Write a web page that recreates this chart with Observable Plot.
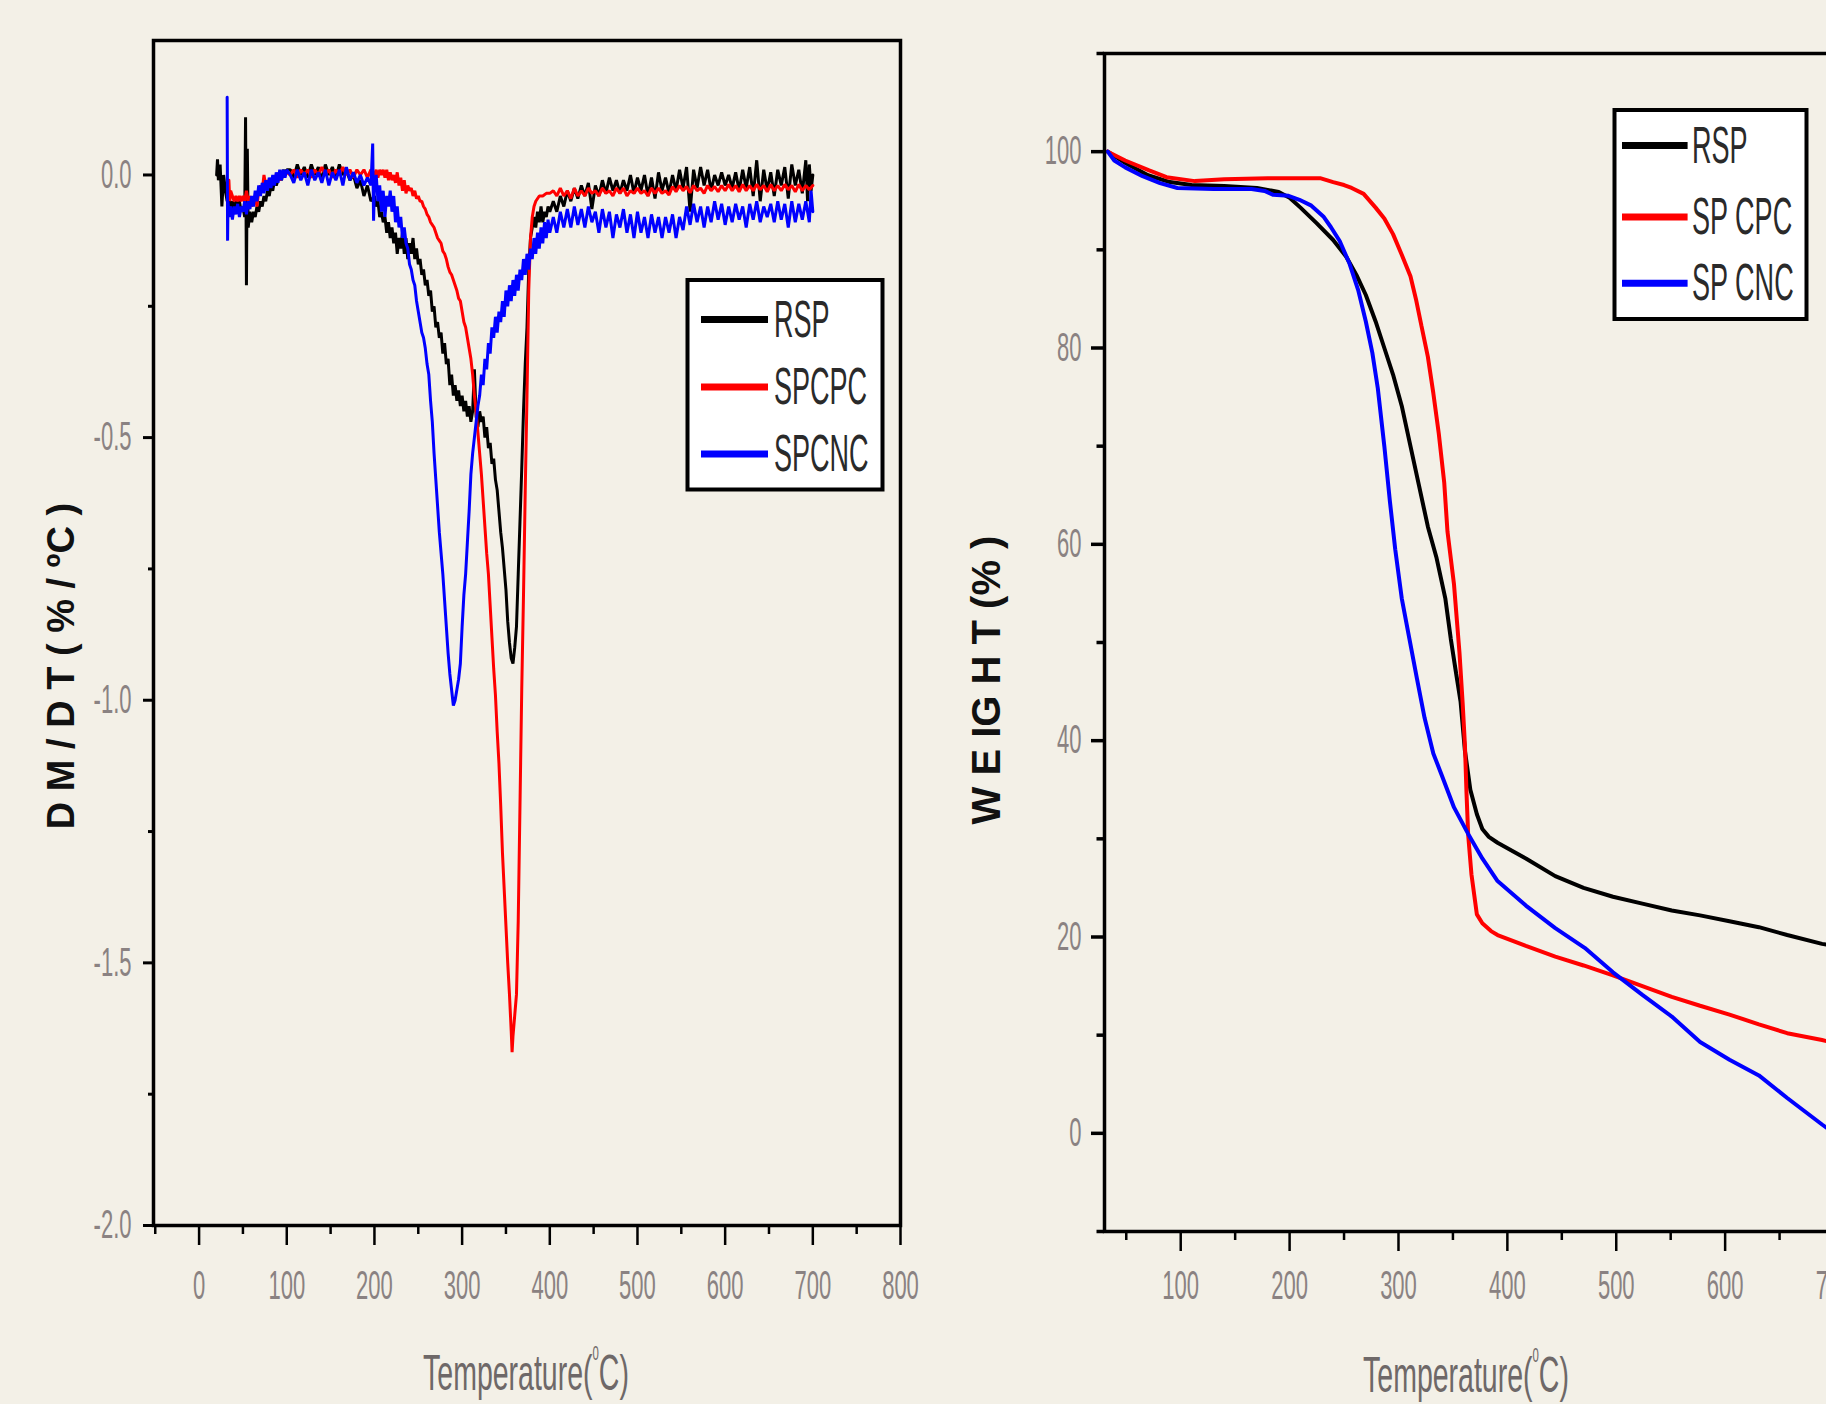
<!DOCTYPE html>
<html><head><meta charset="utf-8">
<script src="https://cdn.jsdelivr.net/npm/d3@7"></script>
<script src="https://cdn.jsdelivr.net/npm/@observablehq/plot@0.6"></script>
<style>
html,body{margin:0;padding:0;background:#f3f0e7;overflow:hidden;}
#wrap{position:relative;width:1826px;height:1404px;overflow:hidden;background:#f3f0e7;}
#left{position:absolute;left:0;top:0;width:960px;height:1404px;}
#right{position:absolute;left:920px;top:0;width:1050px;height:1404px;}
#wrap svg{max-width:none !important;}
</style></head>
<body><div id="wrap"><div id="left"></div><div id="right"></div></div>
<script>
// ---------- Left panel (DTG) data: [temperature °C, dM/dT %/°C] ----------
const dtgRSP = [
[20,0.0],[21,0.03],[22,-0.01],[24,0.02],[26,-0.06],[28,0.0],[30,-0.03],[32,-0.05],[34,-0.04],[36,-0.06],[38,-0.05],[40,-0.07],[42,-0.05],[44,-0.06],[46,-0.05],[48,-0.07],[50,-0.06],[52,-0.08],[53,0.11],[54,-0.21],[55,0.05],[56,-0.1],[58,-0.07],[60,-0.09],[62,-0.07],[64,-0.08],[66,-0.06],[68,-0.07],[70,-0.05],[72,-0.06],[74,-0.04],[76,-0.05],[78,-0.03],[80,-0.04],[82,-0.02],[84,-0.03],[86,-0.01],[88,-0.02],[90,-0.01],[92,0.0],[94,-0.01],[96,0.01],[98,0.0],[100,0.01],
[104,0.01],[108,-0.005],[112,0.02],[116,0.0],[120,0.015],[124,-0.005],[128,0.02],[132,0.0],[136,0.015],[140,-0.01],[144,0.02],[148,0.0],[152,0.015],[156,-0.005],[160,0.02],[164,0.0],[168,0.01],[172,-0.01],[176,0.0],[180,-0.025],[184,-0.01],[188,-0.04],[192,-0.02],[196,-0.05],[200,-0.04],
[202,-0.06],[204,-0.05],[206,-0.08],[208,-0.07],[210,-0.09],[212,-0.08],[214,-0.11],[216,-0.09],[218,-0.12],[220,-0.1],[222,-0.13],[224,-0.11],[226,-0.15],[228,-0.12],[230,-0.14],[232,-0.11],[234,-0.15],[236,-0.12],[238,-0.16],[240,-0.13],[242,-0.15],[244,-0.12],[246,-0.16],[248,-0.14],[250,-0.17],[252,-0.16],[254,-0.19],[256,-0.18],[258,-0.21],[260,-0.2],[262,-0.23],[264,-0.22],[266,-0.26],[268,-0.25],[270,-0.29],[272,-0.28],[274,-0.31],[276,-0.3],[278,-0.34],[280,-0.32],[282,-0.36],[284,-0.35],[286,-0.4],[288,-0.38],[290,-0.42],[292,-0.4],[294,-0.43],[296,-0.41],[298,-0.44],[300,-0.42],[302,-0.45],[304,-0.43],[306,-0.46],[308,-0.44],[310,-0.47],[312,-0.45],[314,-0.37],[316,-0.46],[318,-0.48],[320,-0.45],[322,-0.47],[324,-0.46],[326,-0.5],[328,-0.48],[330,-0.52],[332,-0.51],[334,-0.55],[336,-0.54],[338,-0.58],[340,-0.6],[342,-0.64],[344,-0.68],[346,-0.71],[348,-0.75],[350,-0.79],[352,-0.85],[354,-0.89],[356,-0.92],[358,-0.93],[360,-0.9],[362,-0.86],[364,-0.76],[366,-0.66],[368,-0.56],[370,-0.45],[372,-0.36],[374,-0.29],[376,-0.18],[378,-0.12],[380,-0.1],[382,-0.08],[384,-0.1],[386,-0.07],[388,-0.09],[390,-0.06],[392,-0.09],[394,-0.07],[396,-0.08],[398,-0.06],[400,-0.07],
[404,-0.05],[408,-0.07],[412,-0.04],[416,-0.06],[420,-0.03],[424,-0.05],[428,-0.025],[432,-0.045],[436,-0.02],[440,-0.04],[444,-0.015],[448,-0.065],[452,-0.02],[456,-0.04],[460,-0.01],[464,-0.035],[468,-0.005],[472,-0.03],[476,-0.01],[480,-0.035],[484,-0.01],[488,-0.03],[492,0.0],[496,-0.035],[500,-0.005],[504,-0.03],[508,0.0],[512,-0.04],[516,-0.005],[520,-0.045],[524,0.005],[528,-0.03],[532,-0.005],[536,-0.035],[540,0.0],[544,-0.03],[548,0.01],[552,-0.025],[556,0.015],[560,-0.07],[564,0.01],[568,-0.025],[572,0.015],[576,-0.02],[580,0.01],[584,-0.03],[588,0.0],[592,-0.02],[596,0.005],[600,-0.02],[604,0.0],[608,-0.025],[612,0.005],[616,-0.03],[620,0.01],[624,-0.025],[628,0.015],[632,-0.04],[636,0.028],[640,-0.05],[644,0.01],[648,-0.03],[652,0.005],[656,-0.04],[660,0.01],[664,-0.02],[668,0.015],[672,-0.045],[676,0.02],[680,-0.02],[684,0.01],[688,-0.035],[692,0.028],[694,-0.05],[696,0.02],[698,-0.03],[700,0.0]
];
const dtgSPCPC = [
[34,-0.01],[35,-0.05],[36,-0.03],[38,-0.04],[40,-0.05],[42,-0.04],[44,-0.05],[46,-0.04],[48,-0.05],[50,-0.04],[52,-0.05],[54,-0.03],[56,-0.05],[58,-0.04],[60,-0.06],[62,-0.05],[64,-0.04],[66,-0.06],[68,-0.03],[70,-0.02],[72,-0.03],[74,0.0],[76,-0.02],[78,-0.01],[80,-0.02],[84,-0.01],[88,0.0],[92,-0.01],[96,0.0],[100,0.005],
[104,0.0],[108,0.01],[112,-0.005],[116,0.01],[120,0.0],[124,0.01],[128,-0.005],[132,0.01],[136,0.0],[140,0.015],[144,0.0],[148,0.01],[152,-0.005],[156,0.01],[160,0.0],[164,0.015],[168,0.0],[172,0.01],[176,-0.005],[180,0.01],[184,0.0],[188,0.01],[192,-0.005],[196,0.01],[200,0.0],
[202,0.01],[204,-0.005],[206,0.01],[208,0.0],[210,0.01],[212,-0.005],[214,0.01],[216,-0.01],[218,0.005],[220,-0.01],[222,0.0],[224,-0.015],[226,0.005],[228,-0.02],[230,-0.005],[232,-0.03],[234,-0.01],[236,-0.035],[238,-0.02],[240,-0.03],[242,-0.025],[244,-0.04],[246,-0.03],[248,-0.045],[250,-0.04],[252,-0.05],[254,-0.05],[256,-0.06],[258,-0.065],[260,-0.075],[262,-0.08],[264,-0.09],[266,-0.095],[268,-0.1],[270,-0.11],[272,-0.12],[274,-0.125],[276,-0.13],[278,-0.145],[280,-0.15],[282,-0.16],[284,-0.175],[286,-0.185],[288,-0.19],[290,-0.2],[292,-0.21],[294,-0.22],[296,-0.235],[298,-0.24],[300,-0.26],[302,-0.28],[304,-0.29],[306,-0.31],[308,-0.33],[310,-0.35],[312,-0.38],[314,-0.42],[316,-0.45],[318,-0.49],[320,-0.53],[322,-0.57],[324,-0.62],[326,-0.67],[328,-0.72],[330,-0.76],[332,-0.82],[334,-0.88],[336,-0.94],[338,-0.99],[340,-1.06],[342,-1.12],[344,-1.2],[346,-1.29],[348,-1.36],[350,-1.43],[352,-1.5],[354,-1.56],[356,-1.63],[357,-1.67],[358,-1.64],[360,-1.6],[362,-1.56],[364,-1.42],[366,-1.2],[368,-0.98],[370,-0.8],[372,-0.6],[374,-0.42],[376,-0.22],[378,-0.12],[380,-0.08],[382,-0.06],[384,-0.05],[388,-0.04],[392,-0.04],[396,-0.035],[400,-0.035],
[404,-0.03],[408,-0.04],[412,-0.025],[416,-0.04],[420,-0.03],[424,-0.045],[428,-0.025],[432,-0.04],[436,-0.03],[440,-0.04],[444,-0.025],[448,-0.035],[452,-0.03],[456,-0.04],[460,-0.025],[464,-0.035],[468,-0.03],[472,-0.04],[476,-0.025],[480,-0.035],[484,-0.025],[488,-0.04],[492,-0.03],[496,-0.035],[500,-0.025],[504,-0.035],[508,-0.03],[512,-0.04],[516,-0.025],[520,-0.035],[524,-0.025],[528,-0.035],[532,-0.03],[536,-0.038],[540,-0.022],[544,-0.032],[548,-0.02],[552,-0.03],[556,-0.022],[560,-0.034],[564,-0.02],[568,-0.03],[572,-0.025],[576,-0.035],[580,-0.02],[584,-0.03],[588,-0.022],[592,-0.032],[596,-0.02],[600,-0.03],[604,-0.018],[608,-0.03],[612,-0.02],[616,-0.032],[620,-0.018],[624,-0.03],[628,-0.02],[632,-0.03],[636,-0.018],[640,-0.028],[644,-0.02],[648,-0.032],[652,-0.018],[656,-0.03],[660,-0.02],[664,-0.03],[668,-0.018],[672,-0.028],[676,-0.02],[680,-0.032],[684,-0.018],[688,-0.03],[692,-0.02],[696,-0.028],[700,-0.02]
];
const dtgSPCNC = [
[32,0.148],[32.5,-0.125],[33,-0.05],[34,-0.08],[36,-0.06],[38,-0.085],[40,-0.06],[42,-0.075],[44,-0.055],[46,-0.08],[48,-0.06],[50,-0.07],[52,-0.05],[54,-0.075],[56,-0.05],[58,-0.065],[60,-0.04],[62,-0.06],[64,-0.03],[66,-0.05],[68,-0.02],[70,-0.04],[72,-0.015],[74,-0.035],[76,-0.01],[78,-0.03],[80,-0.005],[82,-0.025],[84,0.0],[86,-0.02],[88,0.005],[90,-0.015],[92,0.01],[94,-0.01],[96,0.01],[98,-0.005],[100,0.01],
[104,0.0],[108,-0.015],[112,0.01],[116,-0.01],[120,0.005],[124,-0.02],[128,0.01],[132,-0.01],[136,0.005],[140,-0.015],[144,0.01],[148,-0.02],[152,0.005],[156,-0.01],[160,0.01],[164,-0.02],[168,0.015],[172,-0.01],[176,0.005],[180,-0.015],[184,0.0],[188,-0.02],[192,-0.005],[196,-0.02],[198,0.06],[199,-0.087],[200,-0.02],
[202,0.0],[204,-0.05],[206,-0.02],[208,-0.07],[210,-0.03],[212,-0.08],[214,-0.04],[216,-0.06],[218,-0.03],[220,-0.07],[222,-0.04],[224,-0.09],[226,-0.06],[228,-0.1],[230,-0.08],[232,-0.12],[234,-0.1],[236,-0.13],[238,-0.14],[240,-0.17],[242,-0.18],[244,-0.2],[246,-0.21],[248,-0.24],[250,-0.26],[252,-0.28],[254,-0.3],[256,-0.31],[258,-0.33],[260,-0.36],[262,-0.38],[264,-0.43],[266,-0.47],[268,-0.53],[270,-0.58],[272,-0.63],[274,-0.68],[276,-0.72],[278,-0.76],[280,-0.81],[282,-0.86],[284,-0.91],[286,-0.95],[288,-0.98],[290,-1.01],[292,-1.0],[294,-0.98],[296,-0.96],[298,-0.93],[300,-0.86],[302,-0.8],[304,-0.76],[306,-0.7],[308,-0.64],[310,-0.57],[312,-0.53],[314,-0.5],[316,-0.47],[318,-0.44],[320,-0.42],[322,-0.38],[324,-0.4],[326,-0.35],[328,-0.37],[330,-0.32],[332,-0.34],[334,-0.29],[336,-0.31],[338,-0.27],[340,-0.3],[342,-0.26],[344,-0.28],[346,-0.24],[348,-0.27],[350,-0.22],[352,-0.25],[354,-0.21],[356,-0.24],[358,-0.2],[360,-0.23],[362,-0.19],[364,-0.22],[366,-0.18],[368,-0.2],[370,-0.16],[372,-0.19],[374,-0.15],[376,-0.18],[378,-0.14],[380,-0.16],[382,-0.12],[384,-0.15],[386,-0.11],[388,-0.14],[390,-0.1],[392,-0.13],[394,-0.09],[396,-0.12],[398,-0.085],[400,-0.11],
[404,-0.08],[408,-0.11],[412,-0.07],[416,-0.1],[420,-0.065],[424,-0.1],[428,-0.06],[432,-0.095],[436,-0.065],[440,-0.1],[444,-0.06],[448,-0.09],[452,-0.07],[456,-0.11],[460,-0.065],[464,-0.1],[468,-0.07],[472,-0.12],[476,-0.075],[480,-0.1],[484,-0.065],[488,-0.11],[492,-0.075],[496,-0.12],[500,-0.07],[504,-0.11],[508,-0.08],[512,-0.12],[516,-0.075],[520,-0.11],[524,-0.08],[528,-0.12],[532,-0.08],[536,-0.11],[540,-0.075],[544,-0.12],[548,-0.08],[552,-0.105],[556,-0.06],[560,-0.095],[564,-0.055],[568,-0.09],[572,-0.06],[576,-0.1],[580,-0.06],[584,-0.09],[588,-0.05],[592,-0.085],[596,-0.055],[600,-0.095],[604,-0.06],[608,-0.09],[612,-0.055],[616,-0.085],[620,-0.06],[624,-0.1],[628,-0.055],[632,-0.085],[636,-0.05],[640,-0.09],[644,-0.06],[648,-0.08],[652,-0.055],[656,-0.09],[660,-0.05],[664,-0.085],[668,-0.055],[672,-0.1],[676,-0.05],[680,-0.09],[684,-0.055],[688,-0.085],[692,-0.05],[696,-0.09],[698,-0.03],[700,-0.07]
];

// ---------- Right panel (TGA) data: [temperature °C, weight %] ----------
const tgaRSP = [[33,100],[50,98.8],[70,97.6],[90,96.9],[110,96.6],[140,96.5],[170,96.3],[190,95.9],[200,95.3],[210,94.3],[225,92.7],[240,91.0],[252,89.3],[262,87.3],[270,85.4],[279,82.7],[287,80.0],[295,77.3],[303,74.1],[311,70.0],[319,65.9],[327,61.8],[335,58.6],[343,54.5],[348,50.4],[353,46.8],[357,44.0],[361,39.0],[366,35.0],[372,32.5],[377,31.0],[383,30.2],[391,29.6],[417,28.0],[444,26.2],[470,25.0],[497,24.1],[524,23.4],[551,22.7],[577,22.2],[604,21.6],[631,21.0],[657,20.2],[689,19.3],[710,18.9]];
const tgaSPCPC = [[33,100],[49,99.1],[71,98.1],[87,97.4],[113,97.0],[140,97.2],[180,97.3],[228,97.3],[240,96.9],[250,96.6],[257,96.3],[268,95.7],[279,94.3],[287,93.2],[295,91.6],[303,89.5],[311,87.3],[316,85.0],[321,82.3],[327,79.1],[332,75.4],[337,71.3],[342,66.3],[345,61.3],[351,55.9],[356,49.0],[359,43.7],[361,39.6],[362.5,34.6],[364,30.4],[367,26.4],[372,22.3],[377,21.4],[385,20.6],[391,20.2],[417,19.1],[444,18.0],[470,17.1],[497,16.1],[524,15.0],[551,13.9],[577,13.0],[604,12.1],[631,11.1],[657,10.2],[689,9.5],[710,9.0]];
const tgaSPCNC = [[33,100],[39,99.1],[49,98.4],[65,97.5],[81,96.8],[97,96.3],[130,96.2],[165,96.2],[177,96.0],[185,95.6],[199,95.5],[209,95.1],[220,94.5],[231,93.4],[238,92.3],[246,90.9],[255,88.6],[263,85.9],[270,82.7],[276,79.5],[281,75.9],[287,70.0],[292,64.5],[297,59.5],[303,54.5],[310,50.4],[317,46.3],[324,42.3],[332,38.7],[340,36.4],[351,33.2],[364,30.5],[377,28.0],[391,25.7],[417,23.2],[444,20.9],[471,18.9],[497,16.4],[524,14.1],[551,11.9],[577,9.3],[604,7.5],[631,5.9],[657,3.6],[689,0.9],[710,-0.8]];

// ---------- Ticks, names, colors ----------
const leftXTicks = [0,100,200,300,400,500,600,700,800];
const leftXMinor = [-50,50,150,250,350,450,550,650,750];
const leftYTicks = [0,-0.5,-1.0,-1.5,-2.0];
const leftYMinor = [-0.25,-0.75,-1.25,-1.75];
const rightXTicks = [100,200,300,400,500,600,700,800];
const rightXMinor = [50,150,250,350,450,550,650,750];
const rightYTicks = [0,20,40,60,80,100];
const rightYMinor = [-10,10,30,50,70,90,110];
const namesLeft = ["RSP","SPCPC","SPCNC"];
const namesRight = ["RSP","SP CPC","SP CNC"];
const seriesColors = ["#000000","#ff0000","#0000ff"];
const leftYTitle = "D M / D T ( % / ºC )";
const rightYTitle = "W E IG H T (% )";

const FONT = "'Liberation Sans', Arial, sans-serif";
const TICKFILL = "#8a8282";

function squeeze(svg, sel, sx, fill) {
  svg.querySelectorAll(sel).forEach(t => {
    let tr = t.getAttribute("transform");
    if (!tr) {
      const x = +t.getAttribute("x") || 0, y = +t.getAttribute("y") || 0;
      t.removeAttribute("x"); t.removeAttribute("y");
      tr = `translate(${x},${y})`;
    }
    t.setAttribute("transform", tr + ` scale(${sx},1)`);
    if (fill) t.setAttribute("fill", fill);
  });
}

function xTitle(svg, cx, by) {
  const t = d3.select(svg).append("text")
    .attr("transform", `translate(${cx},${by}) scale(0.57,1)`)
    .attr("text-anchor", "middle").attr("font-family", FONT)
    .attr("font-size", 50).attr("fill", "#6e6868");
  t.append("tspan").text("Temperature(");
  t.append("tspan").attr("font-size", 20).attr("dy", -30).text("0");
  t.append("tspan").attr("dy", 30).text("C)");
}
function yTitle(svg, bx, cy, label, fs) {
  d3.select(svg).append("text")
    .attr("transform", `translate(${bx},${cy}) rotate(-90)`)
    .attr("text-anchor", "middle").attr("font-family", FONT)
    .attr("font-weight", "bold").attr("font-size", fs).attr("fill", "#111")
    .text(label);
}
function legend(svg, box, x1, x2, ys, tx, names) {
  const g = d3.select(svg).append("g");
  g.append("rect").attr("x", box[0]).attr("y", box[1]).attr("width", box[2]).attr("height", box[3])
    .attr("fill", "#ffffff").attr("stroke", "#000").attr("stroke-width", 4);
  names.forEach((n, i) => {
    g.append("line").attr("x1", x1).attr("x2", x2).attr("y1", ys[i]).attr("y2", ys[i])
      .attr("stroke", seriesColors[i]).attr("stroke-width", 7);
    g.append("text").attr("transform", `translate(${tx},${ys[i] + 17}) scale(0.52,1)`)
      .attr("text-anchor", "start")
      .attr("font-family", FONT).attr("font-size", 52).attr("fill", "#2a2a2a").text(n);
  });
}

// ---------- Left plot ----------
const lineOpts = (c, w) => ({x: d => d[0], y: d => d[1], stroke: c, strokeWidth: w, strokeLinejoin: "miter"});
const left = Plot.plot({
  width: 960, height: 1404,
  marginLeft: 153, marginRight: 60, marginTop: 40, marginBottom: 179,
  style: {background: "transparent", fontFamily: FONT, fontSize: "40px", overflow: "visible", maxWidth: "none"},
  x: {domain: [-52, 800], label: null},
  y: {domain: [-2.0, 0.256], label: null},
  marks: [
    Plot.line(dtgRSP, lineOpts(seriesColors[0], 3)),
    Plot.line(dtgSPCPC, lineOpts(seriesColors[1], 3)),
    Plot.line(dtgSPCNC, lineOpts(seriesColors[2], 3)),
    Plot.axisX({ticks: leftXTicks, tickSize: 20, tickPadding: 25, strokeWidth: 2.5, fontSize: 40, tickFormat: d => String(d), label: null}),
    Plot.axisX({ticks: leftXMinor, tickSize: 9, strokeWidth: 2.5, tickFormat: () => "", label: null}),
    Plot.axisY({ticks: leftYTicks, tickSize: 10, tickPadding: 12, strokeWidth: 3, fontSize: 40, tickFormat: d => d.toFixed(1), label: null}),
    Plot.axisY({ticks: leftYMinor, tickSize: 5, strokeWidth: 3, tickFormat: () => "", label: null}),
    Plot.frame({stroke: "#000", strokeWidth: 3.5})
  ]
});
squeeze(left, 'g[aria-label="x-axis tick label"] text, g[aria-label="y-axis tick label"] text', 0.55, TICKFILL);
xTitle(left, 526, 1390);
yTitle(left, 74, 666, leftYTitle, 38);
legend(left, [687.5, 280, 195, 209.5], 701, 768, [319.5, 387, 454], 774, namesLeft);
document.getElementById("left").appendChild(left);

// ---------- Right plot ----------
const right = Plot.plot({
  width: 1050, height: 1404,
  marginLeft: 184, marginRight: 27.6, marginTop: 53, marginBottom: 173,
  style: {background: "transparent", fontFamily: FONT, fontSize: "40px", overflow: "visible", maxWidth: "none"},
  x: {domain: [30, 800], label: null},
  y: {domain: [-10, 110], label: null},
  marks: [
    Plot.line(tgaRSP, lineOpts(seriesColors[0], 4)),
    Plot.line(tgaSPCPC, lineOpts(seriesColors[1], 4)),
    Plot.line(tgaSPCNC, lineOpts(seriesColors[2], 4)),
    Plot.axisX({ticks: rightXTicks, tickSize: 20, tickPadding: 19, strokeWidth: 2.5, fontSize: 40, tickFormat: d => String(d), label: null}),
    Plot.axisX({ticks: rightXMinor, tickSize: 9, strokeWidth: 2.5, tickFormat: () => "", label: null}),
    Plot.axisY({ticks: rightYTicks, tickSize: 13, tickPadding: 10, strokeWidth: 3.5, fontSize: 40, tickFormat: d => String(d), label: null}),
    Plot.axisY({ticks: rightYMinor, tickSize: 7.5, strokeWidth: 3.5, tickFormat: () => "", label: null}),
    Plot.frame({stroke: "#000", strokeWidth: 3.5})
  ]
});
squeeze(right, 'g[aria-label="x-axis tick label"] text, g[aria-label="y-axis tick label"] text', 0.55, TICKFILL);
xTitle(right, 546, 1392);
yTitle(right, 80, 680, rightYTitle, 40);
legend(right, [694.5, 110, 192, 209], 702, 767.6, [145.5, 217, 283.3], 772, namesRight);
document.getElementById("right").appendChild(right);
</script>
</body></html>
